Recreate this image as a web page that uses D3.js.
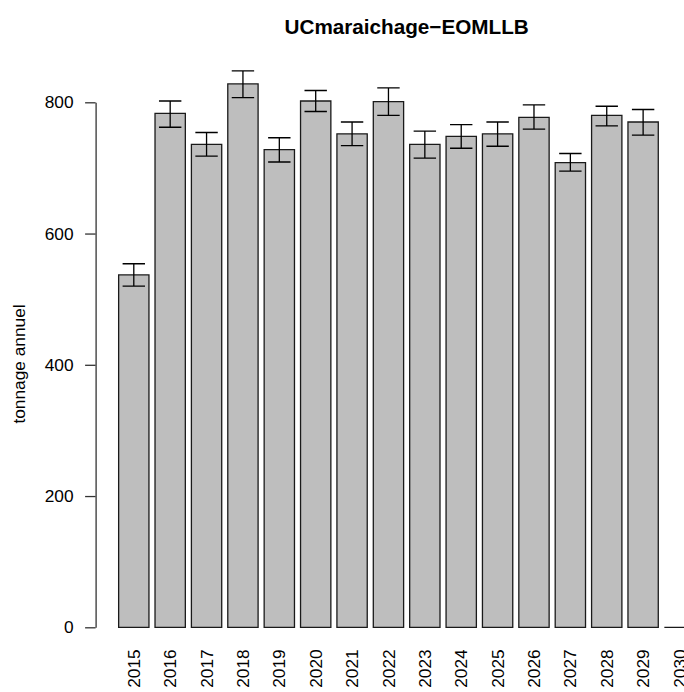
<!DOCTYPE html>
<html>
<head>
<meta charset="utf-8">
<script src="https://cdn.jsdelivr.net/npm/d3@7"></script>
<style>
  html, body { margin: 0; padding: 0; background: #fff; }
  svg { display: block; }
  text { font-family: "Liberation Sans", Arial, Helvetica, sans-serif; }
</style>
</head>
<body>
<script>
// Annual tonnage per year with confidence bounds
const years  = ["2015","2016","2017","2018","2019","2020","2021","2022",
                "2023","2024","2025","2026","2027","2028","2029","2030"];
const tonnage = [537, 783, 736, 828, 728, 802, 752, 801, 736, 748, 752, 777, 708, 780, 770, 0];
const lower   = [520, 762, 718, 807, 709, 786, 734, 780, 715, 730, 733, 759, 695, 764, 750, 0];
const upper   = [554, 802, 754, 848, 746, 818, 770, 822, 756, 766, 770, 796, 722, 794, 789, 0];
const yTicks  = [0, 200, 400, 600, 800];
const title   = "UCmaraichage\u2212EOMLLB";
const yTitle  = "tonnage annuel";

const W = 684, H = 692;
const plotLeft = 95.6, plotRight = 717.7;   // plot region spans past the right edge
const fontSize = 17.3;

const svg = d3.select("body").append("svg")
  .attr("width", W).attr("height", H);

// bars of width 1 separated by 0.2, region padded by 4% on both sides
const unit = (plotRight - plotLeft) / 20.52;
const x = d3.scaleBand()
  .domain(years)
  .range([plotLeft + 0.66 * unit, plotLeft + 19.86 * unit])
  .paddingInner(1 / 6)
  .paddingOuter(1 / 12);

const y = d3.scaleLinear().domain([0, 800]).range([627.3, 102.3]);

const rows = years.map((yr, i) => ({ yr, v: tonnage[i], lo: lower[i], hi: upper[i] }));

// bars
svg.append("g").selectAll("path")
  .data(rows)
  .join("path")
  .attr("d", d => {
    const x0 = x(d.yr), x1 = x0 + x.bandwidth();
    return `M${x0},${y(0)}V${y(d.v)}H${x1}V${y(0)}Z`;
  })
  .attr("fill", "#bebebe")
  .attr("stroke", "#1a1a1a")
  .attr("stroke-width", 1.3);

// error bars with flat caps
const cap = 11.2;
const eb = svg.append("g").attr("stroke", "#000").attr("stroke-width", 1.3).attr("fill", "none");
rows.filter(d => d.hi > d.lo).forEach(d => {
  const cx = x(d.yr) + x.bandwidth() / 2;
  eb.append("path").attr("d",
    `M${cx},${y(d.lo)}V${y(d.hi)}` +
    `M${cx - cap},${y(d.hi)}H${cx + cap}` +
    `M${cx - cap},${y(d.lo)}H${cx + cap}`);
});

// y axis
const yAxis = d3.axisLeft(y).tickValues(yTicks).tickSize(10.5).tickSizeOuter(0).tickPadding(11.5);
const gy = svg.append("g").attr("transform", `translate(${plotLeft},0)`).call(yAxis);
gy.select(".domain").attr("stroke", "#333").attr("stroke-width", 1.3);
gy.selectAll(".tick line").attr("stroke", "#333").attr("stroke-width", 1.3);
gy.selectAll(".tick text")
  .attr("font-size", fontSize)
  .attr("font-family", "Liberation Sans, Arial, sans-serif")
  .attr("fill", "#000");

// category labels, perpendicular to the axis
svg.append("g").selectAll("text")
  .data(rows)
  .join("text")
  .attr("transform", d => `translate(${x(d.yr) + x.bandwidth() / 2},649.3) rotate(-90)`)
  .attr("text-anchor", "end")
  .attr("dy", "0.35em")
  .attr("font-size", fontSize)
  .text(d => d.yr);

// y axis title
svg.append("text")
  .attr("transform", "translate(25,364) rotate(-90)")
  .attr("text-anchor", "middle")
  .attr("font-size", fontSize)
  .text(yTitle);

// main title
svg.append("text")
  .attr("x", (plotLeft + plotRight) / 2)
  .attr("y", 34)
  .attr("text-anchor", "middle")
  .attr("font-size", 20.7)
  .attr("font-weight", "bold")
  .text(title);
</script>
</body>
</html>
